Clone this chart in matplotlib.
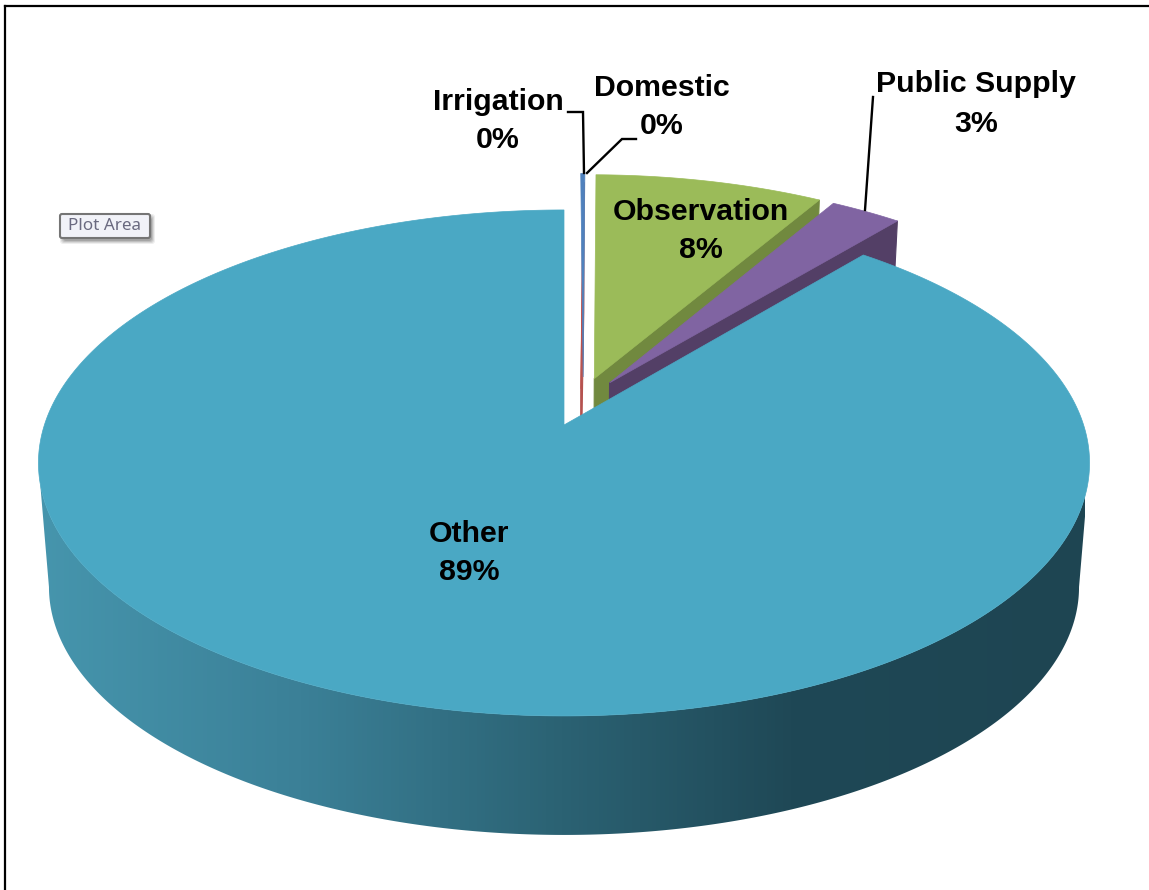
import numpy as np
import matplotlib
matplotlib.use('Agg')
import matplotlib.pyplot as plt
from matplotlib import font_manager
from matplotlib.colors import LinearSegmentedColormap
from matplotlib.patches import FancyBboxPatch, Polygon

# Data (percent of total, clockwise from 12 o'clock)
categories = ['Irrigation', 'Domestic', 'Observation', 'Public Supply', 'Other']
values = [0.15, 0.05, 8.3, 2.6, 88.9]
value_labels = ['0%', '0%', '8%', '3%', '89%']

# Styling
top_colors = ['#4F81BD', '#C0504D', '#9BBB59', '#8064A2', '#4AA8C4']
wall_colors = ['#4F81BD', '#B5524F', '#71893F', '#533F66', '#1E4552']
# how far each slice is pulled out of the pie (unit-disc coordinates)
offsets = [(0.038, 0.20), (0.033, 0.15), (0.060, 0.193), (0.09, 0.175), (0.0, 0.0)]

# Pie projection, in figure pixels
CX, CY = 564.0, 425.0
PERSP = 0.15
AX_X, AX_Y = 519.6, 247.3
DEPTH_SCALE = 0.98
LOW_CY = 835 - 291 * DEPTH_SCALE


def project(u, v, low=False):
    w = 1 + PERSP * v
    if low:
        return CX + DEPTH_SCALE * AX_X * u / w, LOW_CY - DEPTH_SCALE * AX_Y * v / w
    return CX + AX_X * u / w, CY - AX_Y * v / w


def rim(a0, a1, off, low=False, n=300):
    t = np.linspace(a0, a1, n)
    x, y = project(np.sin(t) + off[0], np.cos(t) + off[1], low)
    return np.column_stack([x, y])


fig = plt.figure(figsize=(11.49, 8.90), dpi=100)
ax = fig.add_axes([0, 0, 1, 1])
ax.set_xlim(0, 1149)
ax.set_ylim(890, 0)
ax.axis('off')

# Slice angles come from the values
edges = np.concatenate([[0], np.cumsum(values)]) / np.sum(values) * 2 * np.pi

# Back slices first: radial wall, then top face
for z, i in enumerate([2, 3, 1, 0]):
    a0, a1 = edges[i], edges[i + 1]
    off = offsets[i]
    ax0, ay0 = project(off[0], off[1])
    if i != 0:
        bx0, by0 = project(off[0], off[1], True)
        ox, oy = project(np.sin(a1) + off[0], np.cos(a1) + off[1])
        lx, ly = project(np.sin(a1) + off[0], np.cos(a1) + off[1], True)
        ax.add_patch(Polygon([(ax0, ay0), (ox, oy), (lx, ly), (bx0, by0)],
                             closed=True, fc=wall_colors[i], ec=wall_colors[i], lw=0.8, zorder=2 + z * 0.1))
    ax.add_patch(Polygon(np.vstack([[(ax0, ay0)], rim(a0, a1, off)]),
                         closed=True, fc=top_colors[i], ec=top_colors[i], lw=0.5, zorder=2.05 + z * 0.1))

# Other: wall with horizontal gradient, then top face
a0, a1 = edges[4], edges[5]
sil = np.arcsin(PERSP)
wall = np.vstack([rim(np.pi / 2 + sil, 3 * np.pi / 2 - sil, (0, 0)),
                  rim(3 * np.pi / 2 - sil, np.pi / 2 + sil, (0, 0), True)])
wall_patch = Polygon(wall, closed=True, fc='none', ec='none', zorder=3)
ax.add_patch(wall_patch)
cmap = LinearSegmentedColormap.from_list('wall', [(0, '#4695AD'), (0.25, '#3B8097'), (0.5, '#2B6273'),
                                                  (0.72, '#1F4856'), (1, '#1E4552')])
img = ax.imshow(np.linspace(0, 1, 256)[None, :], cmap=cmap, extent=(40, 1085, 890, 0),
                aspect='auto', zorder=3)
img.set_clip_path(wall_patch)
ax.set_xlim(0, 1149)
ax.set_ylim(890, 0)
apex = project(0, 0)
ax.add_patch(Polygon(np.vstack([[apex], rim(a0, a1, (0, 0), n=800)]), closed=True,
                     fc=top_colors[4], ec=top_colors[4], lw=0.5, zorder=4))

# Labels: the reference type is tall and narrow, use the Narrow cut if it is there
installed = {f.name for f in font_manager.fontManager.ttflist}
if 'Liberation Sans Narrow' in installed:
    font = dict(family=['Liberation Sans Narrow', 'DejaVu Sans'], fontsize=26.5, linespacing=1.25)
else:
    font = dict(family=['Liberation Sans', 'DejaVu Sans'], fontsize=21.8, linespacing=1.5)
label_pos = [(498, 121), (662, 107), (701, 231), (976, 104), (469, 553)]
for name, pct, pos in zip(categories, value_labels, label_pos):
    ax.text(pos[0], pos[1], name + '\n' + pct, fontweight='bold', color='black',
            ha='center', va='center', zorder=6, **font)

# Leader lines
ax.plot([568, 583, 584], [112, 112, 173], color='black', lw=1.7, zorder=5, solid_joinstyle='miter')
ax.plot([636, 622, 587], [139, 139, 173], color='black', lw=1.7, zorder=5, solid_joinstyle='miter')
ax.plot([873, 865], [97, 210], color='black', lw=1.7, zorder=5)

# Excel "Plot Area" tooltip, soft shadow to the lower right
for grow, alpha in [(3, 0.12), (2, 0.18), (1, 0.25), (0, 0.35)]:
    ax.add_patch(FancyBboxPatch((63 - grow, 217 - grow), 89 + 2 * grow, 24 + 2 * grow,
                                boxstyle='round,pad=0,rounding_size=3',
                                fc='#777777', ec='none', alpha=alpha, zorder=5))
ax.add_patch(FancyBboxPatch((60, 214), 90, 24, boxstyle='round,pad=0,rounding_size=2',
                            fc='#F1F2F8', ec='#757575', lw=1.5, zorder=5.1))
ax.text(104.5, 226, 'Plot Area', family='Noto Sans', fontsize=12.3, color='#6A6A80',
        ha='center', va='center', zorder=5.2)

# Window frame, top and left only
ax.plot([5, 5], [890, 6], color='black', lw=1.6, zorder=7, solid_capstyle='projecting')
ax.plot([5, 1149], [6, 6], color='black', lw=1.6, zorder=7, solid_capstyle='projecting')

fig.savefig('out.png', dpi=100, facecolor='white')
